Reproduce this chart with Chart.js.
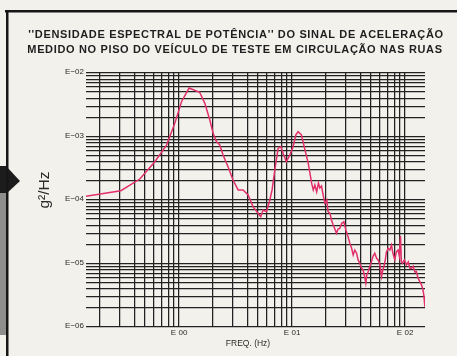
<!DOCTYPE html>
<html>
<head>
<meta charset="utf-8">
<script src="https://cdn.jsdelivr.net/npm/chart.js@4/dist/chart.umd.min.js"></script>
<style>
  html, body { margin: 0; padding: 0; background: #f3f1ec; }
  #wrap { width: 457px; height: 356px; }
</style>
</head>
<body>
<div id="wrap"><canvas id="psd" width="457" height="356"></canvas></div>
<script>
// Frequency (Hz) and power spectral density (g²/Hz) of the floor acceleration
const freqHz = [
  0.15, 0.305, 0.449, 0.61, 0.774, 0.916, 1.05, 1.226, 1.52, 1.69,
  1.87, 2.0, 2.14, 2.29, 2.45, 2.71, 3.0, 3.33, 3.68, 4.08,
  4.52, 5.0, 5.28, 5.53, 5.93, 6.35, 6.65, 7.03, 7.52, 7.94,
  8.32, 8.89, 9.54, 10.2, 10.8, 11.3, 12.1, 12.9, 13.9, 14.9,
  15.4, 15.9, 16.5, 17.1, 17.6, 18.2, 18.9, 19.5, 20.3, 20.8,
  21.6, 22.3, 23.1, 23.9, 24.7, 25.5, 26.4, 27.5, 28.7, 29.9,
  31.3, 32.4, 33.6, 34.7, 35.9, 37.2, 38.4, 39.7, 41.1, 42.5,
  43.7, 44.9, 45.8, 47.1, 48.7, 50.4, 52.1, 53.9, 55.8, 57.7,
  59.7, 61.8, 63.5, 64.9, 66.8, 68.4, 70.8, 73.3, 75.8, 77.9,
  81.1, 83.6, 86.7, 88.9, 91.1, 92.6, 94.9, 98.4, 102.8, 106.7,
  110, 114, 118, 122, 126, 130, 135, 140, 144, 147, 149.5
];
const psdG2Hz = [
  1.15e-4, 1.40e-4, 2.14e-4, 4.0e-4, 7.3e-4, 1.61e-3, 3.53e-3, 5.8e-3, 4.97e-3, 3.33e-3,
  1.82e-3, 1.12e-3, 8.3e-4, 7.35e-4, 5.1e-4, 3.34e-4, 2.06e-4, 1.44e-4, 1.44e-4, 1.2e-4,
  7.8e-5, 6.2e-5, 5.46e-5, 6.97e-5, 6.55e-5, 1.0e-4, 1.44e-4, 2.97e-4, 6.5e-4, 6.9e-4,
  5.43e-4, 4.0e-4, 5.1e-4, 6.9e-4, 1.06e-3, 1.19e-3, 1.06e-3, 6.5e-4, 3.78e-4, 1.83e-4,
  1.44e-4, 1.72e-4, 1.34e-4, 1.85e-4, 1.55e-4, 1.66e-4, 1.16e-4, 8.9e-5, 1.0e-4, 6.55e-5,
  6.2e-5, 4.85e-5, 4.04e-5, 3.49e-5, 2.99e-5, 3.49e-5, 3.58e-5, 4.3e-5, 4.55e-5, 3.37e-5,
  2.64e-5, 2.08e-5, 1.75e-5, 1.36e-5, 1.63e-5, 1.45e-5, 1.14e-5, 1.01e-5, 8.5e-6, 7.9e-6,
  6.36e-6, 4.88e-6, 6.6e-6, 7.43e-6, 8.9e-6, 1.07e-5, 1.31e-5, 1.45e-5, 1.22e-5, 1.14e-5,
  9.8e-6, 6.2e-6, 7.9e-6, 8.9e-6, 1.14e-5, 1.52e-5, 1.73e-5, 1.63e-5, 1.95e-5, 1.46e-5,
  1.14e-5, 1.52e-5, 1.63e-5, 1.31e-5, 2.71e-5, 1.06e-5, 1.01e-5, 1.14e-5, 9.5e-6, 1.06e-5,
  8.5e-6, 8.4e-6, 9.1e-6, 7.35e-6, 7.43e-6, 5.9e-6, 5.17e-6, 4.58e-6, 3.83e-6, 3.0e-6, 2.09e-6
];

// Axis ranges and labelled decades
const xRange = [0.15, 150];
const yRange = [1e-6, 1e-2];
const xDecades = [1, 10, 100];
const xTickLabels = ['E 00', 'E 01', 'E 02'];
const yDecades = [1e-6, 1e-5, 1e-4, 1e-3, 1e-2];
const yTickLabels = ['E\u221206', 'E\u221205', 'E\u221204', 'E\u221203', 'E\u221202'];

const titleLines = [
  "''DENSIDADE ESPECTRAL DE POTÊNCIA'' DO SINAL DE ACELERAÇÃO",
  'MEDIDO NO PISO DO VEÍCULO DE TESTE EM CIRCULAÇÃO NAS RUAS'
];
const yTitle = 'g²/Hz';
const xTitle = 'FREQ. (Hz)';

const FONT = "'Liberation Sans', Arial, Helvetica, sans-serif";

// Gridline positions: 1..9 in every decade inside the range
function logGrid(min, max) {
  const out = [];
  for (let e = Math.floor(Math.log10(min)); e <= Math.ceil(Math.log10(max)); e++) {
    for (let m = 1; m <= 9; m++) {
      const v = m * Math.pow(10, e);
      if (v >= min * 0.9999 && v <= max * 1.0001) out.push(+v.toPrecision(6));
    }
  }
  return out;
}
function labelFor(value, decades, labels) {
  for (let i = 0; i < decades.length; i++) {
    if (Math.abs(value / decades[i] - 1) < 1e-6) return labels[i];
  }
  return '';
}

// Paper background, frame and margin marks
const pagePlugin = {
  id: 'page',
  beforeDraw(chart) {
    const ctx = chart.ctx;
    ctx.save();
    ctx.fillStyle = '#f3f1ec';
    ctx.fillRect(0, 0, chart.width, chart.height);
    // grey strip on the left margin
    ctx.fillStyle = '#8e8e8c';
    ctx.fillRect(0, 192, 6, 143);
    // dark pointer
    ctx.fillStyle = '#1c1c1c';
    ctx.fillRect(0, 166, 7, 27);
    ctx.beginPath();
    ctx.moveTo(6, 166);
    ctx.lineTo(20, 181);
    ctx.lineTo(6, 194);
    ctx.closePath();
    ctx.fill();
    // frame lines
    ctx.fillStyle = '#161616';
    ctx.fillRect(5, 10, chart.width - 5, 2.5);
    ctx.fillRect(6, 10, 2.5, chart.height - 10);
    ctx.restore();
  },
  afterDraw(chart) {
    const ctx = chart.ctx;
    ctx.save();
    ctx.fillStyle = '#1e1e1e';
    ctx.textAlign = 'center';
    ctx.textBaseline = 'middle';
    ctx.font = 'bold 11px ' + FONT;
    ctx.letterSpacing = '0.65px';
    ctx.fillText(titleLines[0], 236, 35);
    ctx.fillText(titleLines[1], 235, 49.5);
    ctx.letterSpacing = '0px';
    ctx.font = '8.5px ' + FONT;
    ctx.fillStyle = '#2a2a2a';
    ctx.fillText(xTitle, 248, 344);
    ctx.translate(45, 190);
    ctx.rotate(-Math.PI / 2);
    ctx.font = '15.5px ' + FONT;
    ctx.fillText(yTitle, 0, 0);
    ctx.restore();
  }
};

const points = freqHz.map((f, i) => ({ x: f, y: psdG2Hz[i] }));

new Chart(document.getElementById('psd'), {
  type: 'line',
  data: {
    datasets: [{
      data: points,
      borderColor: '#e2306c',
      borderWidth: 1.5,
      pointRadius: 0,
      tension: 0,
      fill: false
    }]
  },
  options: {
    responsive: false,
    animation: false,
    devicePixelRatio: 1,
    layout: { padding: { top: 73, right: 32, left: 0, bottom: 0 } },
    plugins: { legend: { display: false }, title: { display: false }, tooltip: { enabled: false } },
    scales: {
      x: {
        type: 'logarithmic',
        min: xRange[0],
        max: xRange[1],
        afterBuildTicks: (scale) => {
          scale.ticks = logGrid(0.2, 100).map(v => ({ value: v }));
        },
        afterFit: (scale) => { scale.height = 29; },
        border: { display: false },
        grid: { color: '#222222', lineWidth: 1.25, drawTicks: false },
        ticks: {
          autoSkip: false,
          maxRotation: 0,
          padding: 1,
          color: '#2a2a2a',
          font: { family: FONT, size: 8 },
          callback: (v) => labelFor(v, xDecades, xTickLabels)
        }
      },
      y: {
        type: 'logarithmic',
        min: yRange[0],
        max: yRange[1],
        afterBuildTicks: (scale) => {
          scale.ticks = logGrid(yRange[0], yRange[1]).map(v => ({ value: v }));
        },
        afterFit: (scale) => { scale.width = 86; },
        border: { display: false },
        grid: { color: '#222222', lineWidth: 1.3, drawTicks: false },
        ticks: {
          autoSkip: false,
          padding: 2,
          labelOffset: -1,
          color: '#2a2a2a',
          font: { family: FONT, size: 8 },
          callback: (v) => labelFor(v, yDecades, yTickLabels)
        }
      }
    }
  },
  plugins: [pagePlugin]
});
</script>
</body>
</html>
